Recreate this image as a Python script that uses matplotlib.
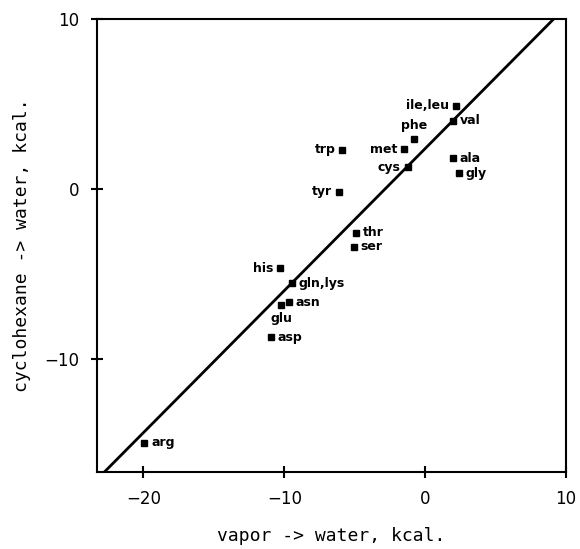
import matplotlib.pyplot as plt
import numpy as np

# vapor -> water and cyclohexane -> water transfer free energies (kcal)
names = ['ile,leu', 'val', 'phe', 'met', 'cys', 'ala', 'gly', 'trp', 'tyr',
         'thr', 'ser', 'his', 'gln,lys', 'asn', 'glu', 'asp', 'arg']
vapor = [2.2, 1.99, -0.76, -1.48, -1.24, 1.94, 2.39, -5.88, -6.11,
         -4.88, -5.06, -10.27, -9.45, -9.68, -10.20, -10.95, -19.92]
cyclo = [4.92, 4.04, 2.98, 2.35, 1.28, 1.81, 0.94, 2.33, -0.14,
         -2.57, -3.40, -4.66, -5.55, -6.64, -6.81, -8.72, -14.92]
side = ['left', 'right', 'above', 'left', 'left', 'right', 'right', 'left', 'left',
        'right', 'right', 'left', 'right', 'right', 'below', 'right', 'right']

fit_slope, fit_icpt = 0.836, 2.39
xlim = (-23.3, 10)
ylim = (-16.65, 10)

fig = plt.figure(figsize=(5.8, 5.49), dpi=100)
ax = fig.add_axes([0.167, 0.140, 0.809, 0.825])

xl = np.array([(ylim[0] - fit_icpt) / fit_slope, (ylim[1] - fit_icpt) / fit_slope])
ax.plot(xl, fit_slope * xl + fit_icpt, color='black', lw=2)
ax.plot(vapor, cyclo, 's', color='black', ms=5)

offs = {'left': (-5, 0, 'right', 'center'), 'right': (5, 0, 'left', 'center'),
        'above': (0, 5, 'center', 'bottom'), 'below': (0, -5, 'center', 'top')}
for n, x, y, s in zip(names, vapor, cyclo, side):
    dx, dy, ha, va = offs[s]
    ax.annotate(n, (x, y), xytext=(dx, dy), textcoords='offset points',
                ha=ha, va=va, fontsize=9, fontweight='bold')

ax.set_xlim(*xlim)
ax.set_ylim(*ylim)
ax.set_xticks([-20, -10, 0, 10])
ax.set_yticks([-10, 0, 10])
ax.tick_params(direction='inout', length=9, width=1.5, labelsize=12, pad=8)
for sp in ax.spines.values():
    sp.set_linewidth(1.5)
ax.set_xlabel('vapor -> water, kcal.', family='DejaVu Sans Mono', fontsize=13, labelpad=14)
ax.set_ylabel('cyclohexane -> water, kcal.', family='DejaVu Sans Mono', fontsize=13, labelpad=10)

fig.savefig('out.png', dpi=100)
